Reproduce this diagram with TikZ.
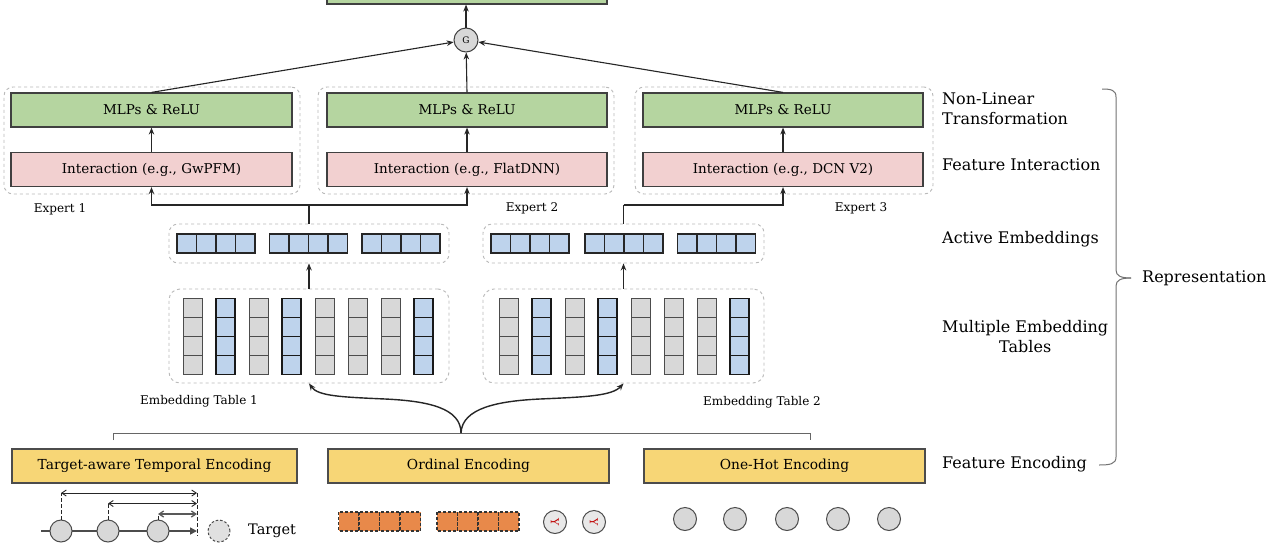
\documentclass[tikz,border=0pt]{standalone}
\usepackage{fontspec}
\setmainfont{DejaVu Serif}
\usetikzlibrary{arrows.meta,calc}
\definecolor{gfill}{RGB}{181,213,160}
\definecolor{pfill}{RGB}{242,208,208}
\definecolor{yfill}{RGB}{247,214,118}
\definecolor{bfill}{RGB}{190,211,236}
\definecolor{cgray}{RGB}{216,216,216}
\definecolor{ofill}{RGB}{232,137,74}
\definecolor{dgray}{RGB}{185,185,185}
\begin{document}
\begin{tikzpicture}[x=1pt,y=-1pt,
  arr/.style={-{Stealth[length=7pt,width=5.5pt]}, line width=1.1pt, black!85},
  conn/.style={line width=1.1pt, black!85},
  gbox/.style={draw=black!75, line width=1.2pt, fill=gfill, minimum width=281pt, minimum height=34pt, inner sep=0pt, font=\fontsize{13.5}{15}\selectfont},
  pbox/.style={gbox, fill=pfill},
  ybox/.style={gbox, fill=yfill, draw=black!70, font=\fontsize{13.8}{15}\selectfont},
  dbox/.style={draw=dgray, dashed, line width=0.9pt, rounded corners=9pt, inner sep=0pt},
  acell/.style={draw=black!85, line width=1.1pt, fill=bfill},
  gcell/.style={draw=black!70, line width=0.9pt, fill=cgray},
  bcell/.style={draw=black!90, line width=1.2pt, fill=bfill},
  rlabel/.style={font=\fontsize{16}{20}\selectfont, inner sep=0pt},
  slabel/.style={font=\fontsize{12}{13}\selectfont, inner sep=0pt},
  dot/.style={circle, draw=black!70, line width=1pt, fill=cgray, minimum size=23pt, inner sep=0pt},
  dbl/.style={{Straight Barb[length=4.5pt,width=6pt]}-{Straight Barb[length=4.5pt,width=6pt]}, line width=0.9pt, black!85},
  vdash/.style={line width=0.9pt, black!85, dash pattern=on 3.5pt off 2.5pt}
]
\useasboundingbox (0,0) rectangle (1280,544);
\fill[white] (0,0) rectangle (1280,544);

% output box and gate
\node[gbox, minimum width=280pt, minimum height=30pt] (out) at (467,-11) {};
\node[circle, draw=black!75, line width=1pt, fill=cgray, minimum size=24pt, inner sep=0pt, font=\fontsize{9}{10}\selectfont] (G) at (466,40) {G};
\draw[arr] (G.north) -- (G.north|-out.south);

% expert dashed groups
\node[dbox, minimum width=296pt, minimum height=107pt] (exp1) at (152,140.5) {};
\node[dbox, minimum width=296pt, minimum height=107pt] (exp2) at (466,140.5) {};
\node[dbox, minimum width=298pt, minimum height=107pt] (exp3) at (784,140.5) {};

% expert boxes
\node[gbox] (g1) at (151.5,110) {MLPs \& ReLU};
\node[gbox, minimum width=280pt] (g2) at (467,110) {MLPs \& ReLU};
\node[gbox, minimum width=280pt] (g3) at (783,110) {MLPs \& ReLU};
\node[pbox] (p1) at (151.5,169.5) {Interaction (e.g., GwPFM)};
\node[pbox, minimum width=280pt] (p2) at (467,169.5) {Interaction (e.g., FlatDNN)};
\node[pbox, minimum width=280pt] (p3) at (783,169.5) {Interaction (e.g., DCN V2)};
\foreach \i in {1,2,3} \draw[arr] (p\i.north) -- (g\i.south);

\draw[arr] (g1.north) -- (G);
\draw[arr] (g2.north) -- (G);
\draw[arr] (g3.north) -- (G);

\node[slabel] (e1) at (60,209) {Expert 1};
\node[slabel] (e2) at (532,208) {Expert 2};
\node[slabel] (e3) at (861,208) {Expert 3};

% active embeddings
\node[dbox, minimum width=280pt, minimum height=39pt] (act1) at (309,243.5) {};
\node[dbox, minimum width=281pt, minimum height=39pt] (act2) at (623.5,243.5) {};
\foreach \s in {177,269.5,362,491,585,677.5}
  \foreach \i in {0,...,3}
    \draw[acell] (\s+\i*19.5,234) rectangle ++(19.5,19);

% connectors active -> experts
\coordinate (j1) at (act1.north|-0,205);
\coordinate (j2) at (act2.north|-0,205);
\draw[conn] (act1.north) -- (j1);
\draw[arr] (j1) -| (p1.south);
\draw[arr] (j1) -| (p2.south);
\draw[conn] (act2.north) -- (j2);
\draw[arr] (j2) -| (p3.south);

% embedding tables
\node[dbox, minimum width=280pt, minimum height=94pt, rounded corners=11pt] (emb1) at (309,336) {};
\node[dbox, minimum width=281pt, minimum height=94pt, rounded corners=11pt] (emb2) at (623.5,336) {};
\foreach \b in {183,499}{
  \foreach \c in {0,2,4,5,6}
    \foreach \r in {0,...,3}
      \draw[gcell] (\b+\c*33,298.5+\r*19) rectangle ++(19,19);
  \foreach \c in {1,3,7}
    \foreach \r in {0,...,3}
      \draw[bcell] (\b+\c*33,298.5+\r*19) rectangle ++(19,19);
}
\draw[arr] (emb1.north) -- (act1.south);
\draw[arr] (emb2.north) -- (act2.south);

\node[slabel] (et1) at (199,401) {Embedding Table 1};
\node[slabel] (et2) at (762,402) {Embedding Table 2};

% bracket and curved arrows
\coordinate (stem) at (461,433);
\draw[line width=0.9pt, black!60] (113,440) -- (113,433) -- (810,433) -- (810,440);
\draw[arr, line width=1.4pt] (stem) .. controls (461,408) and (428,401) .. (385,399) .. controls (340,397) and (318,396) .. (emb1.south);
\draw[arr, line width=1.4pt] (stem) .. controls (462,408) and (498,401) .. (540,399) .. controls (585,397) and (612,396) .. (emb2.south);

% encodings
\node[ybox, minimum width=285pt] (y1) at (154.5,466) {Target-aware Temporal Encoding};
\node[ybox] (y2) at (468.5,466) {Ordinal Encoding};
\node[ybox] (y3) at (784.5,466) {One-Hot Encoding};

% timeline
\coordinate (tl0) at (41,531);
\coordinate (tl1) at (197,531);
\draw[line width=1.6pt, black!70, -{Triangle[length=7pt,width=7pt]}] (tl0) -- (tl1);
\node[dot, minimum size=22pt] (c1) at (61,531) {};
\node[dot, minimum size=22pt] (c2) at (108,531) {};
\node[dot, minimum size=22pt] (c3) at (158,531) {};
\node[dot, minimum size=22pt, dash pattern=on 2.5pt off 2pt, fill=cgray!80] (ct) at (219,531) {};
\coordinate (r1) at (197,493);
\coordinate (r0) at (197,536);
\draw[vdash] (r1) -- (r0);
\coordinate (a1) at (61,493);
\coordinate (a2) at (108,503.5);
\coordinate (a3) at (158,514);
\draw[vdash] (c1.north) -- (a1);
\draw[vdash] (c2.north) -- (a2);
\draw[vdash] (c3.north) -- (a3);
\draw[dbl] (a1) -- (a1-|r1);
\draw[dbl] (a2) -- (a2-|r1);
\draw[dbl, black!65, line width=1.3pt] (a3) -- (a3-|r1);
\node[font=\fontsize{14.5}{16}\selectfont, anchor=west, inner sep=0pt] (tg) at (248,531) {Target};

% ordinal items
\foreach \s in {338.5,437}
  \foreach \i in {0,...,3}
    \draw[draw=black!80, dash pattern=on 3pt off 2pt, line width=1.1pt, fill=ofill] (\s+\i*20.5,512) rectangle ++(20.5,19);
\foreach \x/\n in {555/o1,594/o2}{
  \node[dot, fill=cgray!60, minimum size=23pt] (\n) at (\x,522) {};
  \node[text=red!75!black, font=\fontsize{11}{11}\selectfont, rotate=-90, inner sep=0pt] at (\n) {Y};
}

% one-hot items
\foreach \x/\n in {685/h1,735/h2,787/h3,838/h4,889/h5}
  \node[dot] (\n) at (\x,519) {};

% right labels
\node[rlabel, anchor=west, align=left] (nl) at (942,108.5) {Non-Linear\\Transformation};
\node[rlabel, anchor=west] (fi) at (942,165) {Feature Interaction};
\node[rlabel, anchor=west] (ae) at (942,239) {Active Embeddings};
\node[rlabel, anchor=west, align=center] (met) at (942,336.5) {Multiple Embedding\\Tables};
\node[rlabel, anchor=west] (fe) at (942,464) {Feature Encoding};
\node[rlabel, anchor=west] (rep) at (1142,278) {Representation};

% brace
\coordinate (bt) at (1102,89);
\coordinate (bm) at (1131,278);
\coordinate (bb) at (1099,465);
\draw[line width=1pt, black!55] (bt) .. controls (1111,89) and (1116,90) .. (1116,97) -- (1116,270) .. controls (1116,276) and (1121,278) .. (bm);
\draw[line width=1pt, black!55] (bm) .. controls (1121,278) and (1116,280) .. (1116,286) -- (1116,457) .. controls (1116,464) and (1110,465) .. (bb);
\end{tikzpicture}
\end{document}
